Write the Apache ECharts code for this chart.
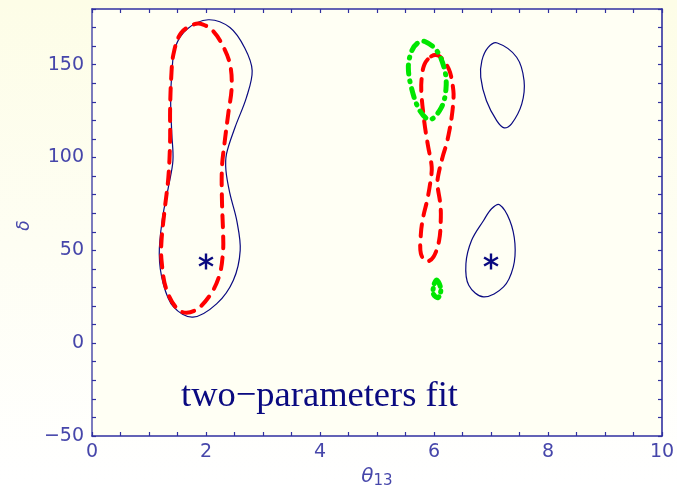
<!DOCTYPE html>
<html>
<head>
<meta charset="utf-8">
<script src="https://cdn.jsdelivr.net/npm/echarts@6/dist/echarts.min.js"></script>
<style>
html,body{margin:0;padding:0;background:linear-gradient(#fdfde7,#ffffff);}
#c{width:677px;height:485px;}
</style>
</head>
<body>
<div id="c"></div>
<script>
// Contours: [theta13, delta]
const blueLeft = [[2.04,174.2],[2.42,170],[2.68,159],[2.81,146.8],[2.71,132.4],[2.51,116.3],[2.36,102],[2.35,93],[2.42,80.5],[2.54,66],[2.60,50],[2.48,33.9],[2.19,21.3],[1.77,14],[1.43,19.5],[1.25,32],[1.18,48],[1.24,68],[1.34,84],[1.42,98.4],[1.40,112.7],[1.38,130.6],[1.40,145],[1.46,159.3],[1.66,169]];
const redLeft = [[1.80,171.8],[1.95,171.6],[2.12,168.3],[2.28,161.1],[2.42,150.4],[2.45,137.8],[2.39,123.5],[2.33,109],[2.28,94.8],[2.28,76.9],[2.30,59],[2.30,50],[2.24,37],[2.07,25.8],[1.80,17.5],[1.54,17.4],[1.31,28.5],[1.22,44.6],[1.22,55.4],[1.28,73.3],[1.34,89.4],[1.37,109],[1.37,125.3],[1.39,143.2],[1.43,155.8],[1.56,167]];
const blueUpperRight = [[7.11,161.7],[7.45,154],[7.58,141.4],[7.54,128.9],[7.36,118.1],[7.23,116],[7.10,119.9],[6.92,130.6],[6.82,143.2],[6.84,152.2],[6.95,159.3]];
const blueLowerRight = [[7.15,74.6],[7.33,66.1],[7.42,53.6],[7.39,41],[7.22,30.3],[6.87,24.9],[6.61,31.2],[6.56,42.8],[6.66,55.4],[6.87,66.1],[7.01,72.4]];
const greenUpper = [[5.84,162.5],[6.05,157.5],[6.19,146.8],[6.21,136.9],[6.13,127],[5.93,120.4],[5.75,125.3],[5.61,136.9],[5.55,148.6],[5.61,157.5],[5.72,161.8]];
const greenLower = [[6.05,34],[6.12,29],[6.07,24.5],[5.99,26.5],[6.00,31.5]];
const redRight = [[5.95,154.5],[6.07,155],[6.19,151.3],[6.28,146],[6.34,136],[6.34,130.6],[6.31,121.7],[6.27,114.5],[6.22,107.4],[6.15,100.2],[6.08,91.2],[6.06,85.8],[6.11,75.1],[6.12,67.9],[6.09,55.4],[5.99,46.4],[5.87,44.1],[5.77,48.2],[5.77,59],[5.81,67.9],[5.88,76.9],[5.94,87.6],[5.96,94.8],[5.90,105.5],[5.86,112.7],[5.82,121.7],[5.78,134.2],[5.78,141.4],[5.83,150]];
const bestFitX = [2, 7];
const bestFitY = [44, 44];
const xTickLabels = [0, 2, 4, 6, 8, 10];
const yTickLabels = [-50, 0, 50, 100, 150];
const annotation = 'two\u2212parameters fit';

const NAVY = '#0a0a80';
const AX = '#3030a0';
const LBL = '#4646aa';

function contourSeries(pts, color, width, dash) {
  return {
    type: 'custom',
    coordinateSystem: 'cartesian2d',
    data: pts,
    silent: true,
    renderItem: function (params, api) {
      if (params.dataIndex !== 0) return null;
      const p = pts.map(d => api.coord(d));
      return {
        type: 'polygon',
        shape: { points: p, smooth: 0.35 },
        style: { fill: 'none', stroke: color, lineWidth: width, lineDash: dash, lineCap: 'round' }
      };
    }
  };
}

const starSeries = {
  type: 'custom',
  coordinateSystem: 'cartesian2d',
  data: bestFitX.map((x, i) => [x, bestFitY[i]]),
  silent: true,
  renderItem: function (params, api) {
    const c = api.coord([api.value(0), api.value(1)]);
    const r = 8;
    const kids = [90, 30, 150].map(a => {
      const t = a * Math.PI / 180;
      return {
        type: 'line',
        shape: { x1: c[0] - r * Math.cos(t), y1: c[1] - r * Math.sin(t), x2: c[0] + r * Math.cos(t), y2: c[1] + r * Math.sin(t) },
        style: { stroke: NAVY, lineWidth: 2.4 }
      };
    });
    return { type: 'group', children: kids };
  }
};

const chart = echarts.init(document.getElementById('c'));
const tickBase = { show: true, inside: true, length: 4, lineStyle: { color: AX, width: 1.2 } };
chart.setOption({
  backgroundColor: 'transparent',
  animation: false,
  grid: { left: 92, right: 15, top: 9, bottom: 49, show: true, backgroundColor: '#fffff4', borderWidth: 0, containLabel: false, outerBoundsMode: 'none' },
  xAxis: [
    {
      type: 'value', min: 0, max: 10, interval: 0.5, position: 'bottom',
      axisLine: { show: true, onZero: false, lineStyle: { color: AX, width: 1.6 } },
      axisTick: tickBase,
      splitLine: { show: false },
      axisLabel: {
        color: LBL, fontFamily: 'DejaVu Sans', fontSize: 19, margin: 7,
        formatter: v => (xTickLabels.indexOf(v) >= 0 ? String(v) : '')
      },
      name: '{t|\u03B8}{s|13}', nameLocation: 'middle', nameGap: 28,
      nameTextStyle: {
        rich: {
          t: { fontFamily: 'DejaVu Sans', fontStyle: 'italic', fontSize: 20, color: LBL },
          s: { fontFamily: 'DejaVu Sans', fontSize: 15, color: LBL, padding: [8, 0, 0, 0] }
        }
      }
    },
    {
      type: 'value', min: 0, max: 10, interval: 0.5, position: 'top',
      axisLine: { show: true, onZero: false, lineStyle: { color: AX, width: 1.6 } },
      axisTick: tickBase, axisLabel: { show: false }, splitLine: { show: false }
    }
  ],
  yAxis: [
    {
      type: 'value', min: -50, max: 180, interval: 10, position: 'left',
      axisLine: { show: true, onZero: false, lineStyle: { color: '#5a5ab0', width: 1.6 } },
      axisTick: tickBase,
      splitLine: { show: false },
      axisLabel: {
        color: LBL, fontFamily: 'DejaVu Sans', fontSize: 19, margin: 8,
        formatter: v => (yTickLabels.indexOf(v) >= 0 ? String(v).replace('-', '\u2212') : '')
      },
      name: '\u03B4', nameLocation: 'middle', nameGap: 48, nameRotate: 90,
      nameTextStyle: { fontFamily: 'DejaVu Sans', fontStyle: 'italic', fontSize: 17, color: LBL, padding: [0, 6, 0, 0] }
    },
    {
      type: 'value', min: -50, max: 180, interval: 10, position: 'right',
      axisLine: { show: true, onZero: false, lineStyle: { color: AX, width: 1.6 } },
      axisTick: tickBase, axisLabel: { show: false }, splitLine: { show: false }
    }
  ],
  series: [
    contourSeries(blueLeft, NAVY, 1.2, null),
    contourSeries(blueUpperRight, NAVY, 1.2, null),
    contourSeries(blueLowerRight, NAVY, 1.2, null),
    contourSeries(redLeft, '#ff0000', 4, [12, 9]),
    contourSeries(redRight, '#ff0000', 4, [12, 9]),
    contourSeries(greenUpper, '#00e600', 5, [9, 7, 1, 7]),
    contourSeries(greenLower, '#00e600', 5, [7, 5, 1, 5]),
    starSeries
  ],
  graphic: [
    {
      type: 'text', x: 181, y: 378,
      style: { text: annotation, font: '36.5px "Liberation Serif"', fill: NAVY }
    }
  ]
});
</script>
</body>
</html>
